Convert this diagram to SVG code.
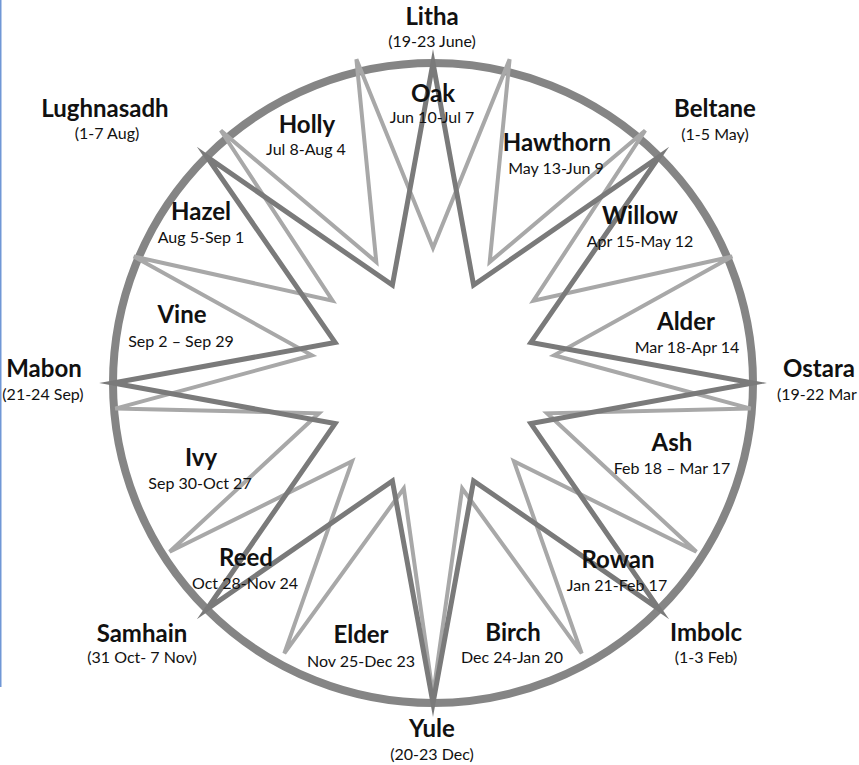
<svg xmlns="http://www.w3.org/2000/svg" width="859" height="765" viewBox="0 0 859 765">
<style>
.bg{fill:#ffffff}
.ring{fill:none;stroke:#858585;stroke-width:8}
.light{fill:none;stroke:#a8a8a8;stroke-width:4;stroke-linejoin:miter;stroke-miterlimit:4}
.dark{fill:none;stroke:#7a7a7a;stroke-width:5;stroke-linejoin:miter;stroke-miterlimit:10}
.n{font-family:Lato,"Open Sans",sans-serif;font-weight:bold;font-size:24px;fill:#111;text-anchor:middle}
.d{font-family:Lato,"Open Sans",sans-serif;font-size:16px;fill:#111;text-anchor:middle}
</style>
<rect class="bg" x="0" y="0" width="859" height="765"/>
<rect x="0" y="0" width="1.5" height="687" fill="#7097d6"/>
<g id="connectors">
<circle class="ring" cx="433" cy="383" r="320"/>
<polygon class="light" points="433,248 509.6,59.3 489.7,262 645.2,130.5 533.4,300.7 732.2,256.5 554.1,355.3 750.7,408.6 547.1,413.3 696.4,551.8 513.9,461.3 581.7,653.4 462.2,488.5 433,695 403.8,488.5 284.3,653.4 352.1,461.3 169.6,551.8 318.9,413.3 115.3,408.6 311.9,355.3 133.8,256.5 332.6,300.7 220.8,130.5 376.3,262 356.4,59.3"/>
<polygon class="dark" points="433,63 473.6,285.1 659.3,156.7 530.9,342.4 753,383 530.9,423.6 659.3,609.3 473.6,480.9 433,703 392.4,480.9 206.7,609.3 335.1,423.6 113,383 335.1,342.4 206.7,156.7 392.4,285.1"/>
</g>
<g id="litha"><text class="n" x="432" y="25">Litha</text><text class="d" x="432" y="47">(19-23 June)</text></g>
<g id="beltane"><text class="n" x="715" y="117">Beltane</text><text class="d" x="715" y="140">(1-5 May)</text></g>
<g id="ostara"><text class="n" x="819" y="377">Ostara</text><text class="d" x="777" y="400" style="text-anchor:start">(19-22 Mar</text></g>
<g id="imbolc"><text class="n" x="706" y="641">Imbolc</text><text class="d" x="706" y="663">(1-3 Feb)</text></g>
<g id="yule"><text class="n" x="432" y="737">Yule</text><text class="d" x="432" y="760">(20-23 Dec)</text></g>
<g id="samhain"><text class="n" x="142" y="642">Samhain</text><text class="d" x="142" y="663">(31 Oct- 7 Nov)</text></g>
<g id="mabon"><text class="n" x="44" y="377">Mabon</text><text class="d" x="43" y="400">(21-24 Sep)</text></g>
<g id="lughnasadh"><text class="n" x="105" y="117">Lughnasadh</text><text class="d" x="107" y="139">(1-7 Aug)</text></g>
<g id="oak"><text class="n" x="433" y="102">Oak</text><text class="d" x="432" y="123">Jun 10-Jul 7</text></g>
<g id="holly"><text class="n" x="307" y="133">Holly</text><text class="d" x="306" y="155">Jul 8-Aug 4</text></g>
<g id="hawthorn"><text class="n" x="557" y="151">Hawthorn</text><text class="d" x="556" y="174">May 13-Jun 9</text></g>
<g id="hazel"><text class="n" x="201" y="220">Hazel</text><text class="d" x="201" y="243">Aug 5-Sep 1</text></g>
<g id="willow"><text class="n" x="640" y="224">Willow</text><text class="d" x="640" y="247">Apr 15-May 12</text></g>
<g id="vine"><text class="n" x="182" y="323">Vine</text><text class="d" x="181" y="347">Sep 2 – Sep 29</text></g>
<g id="alder"><text class="n" x="686" y="330">Alder</text><text class="d" x="687" y="353">Mar 18-Apr 14</text></g>
<g id="ivy"><text class="n" x="201" y="466">Ivy</text><text class="d" x="200" y="489">Sep 30-Oct 27</text></g>
<g id="ash"><text class="n" x="672" y="451">Ash</text><text class="d" x="672" y="474">Feb 18 – Mar 17</text></g>
<g id="reed"><text class="n" x="246" y="566">Reed</text><text class="d" x="245" y="589">Oct 28-Nov 24</text></g>
<g id="rowan"><text class="n" x="618" y="568">Rowan</text><text class="d" x="617" y="591">Jan 21-Feb 17</text></g>
<g id="elder"><text class="n" x="361" y="643">Elder</text><text class="d" x="361" y="667">Nov 25-Dec 23</text></g>
<g id="birch"><text class="n" x="513" y="641">Birch</text><text class="d" x="512" y="663">Dec 24-Jan 20</text></g>
</svg>
